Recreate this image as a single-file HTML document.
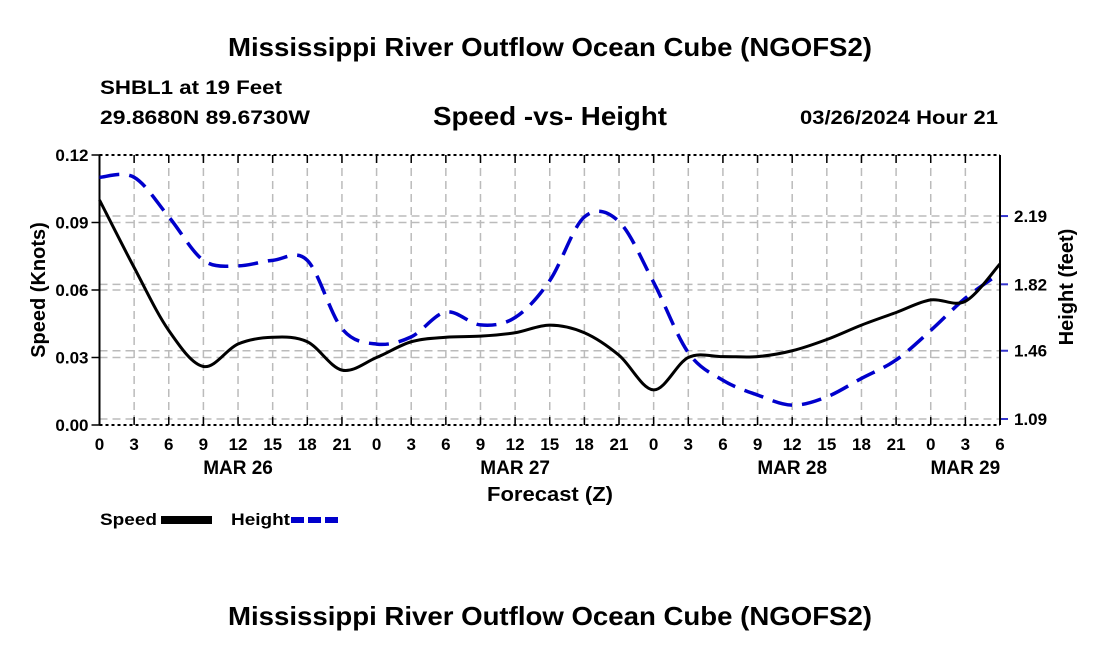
<!DOCTYPE html>
<html><head><meta charset="utf-8"><style>
body{margin:0;background:#fff;width:1100px;height:650px;overflow:hidden;font-family:"Liberation Sans",sans-serif;}
svg text{font-family:"Liberation Sans",sans-serif;font-weight:bold;fill:#000;}
</style></head><body>
<svg id="chart" width="1100" height="650">
<text x="550" y="56" text-anchor="middle" font-size="26" textLength="644" lengthAdjust="spacingAndGlyphs">Mississippi River Outflow Ocean Cube (NGOFS2)</text>
<text x="100" y="94" font-size="19" textLength="182" lengthAdjust="spacingAndGlyphs">SHBL1 at 19 Feet</text>
<text x="100" y="124" font-size="19" textLength="210" lengthAdjust="spacingAndGlyphs">29.8680N  89.6730W</text>
<text x="433" y="125" font-size="26" textLength="234" lengthAdjust="spacingAndGlyphs">Speed -vs- Height</text>
<text x="800" y="124" font-size="19" textLength="198" lengthAdjust="spacingAndGlyphs">03/26/2024 Hour 21</text>
<g id="grid"></g><g id="axes"></g><g id="series"></g>
<text x="487" y="501" font-size="20" textLength="126" lengthAdjust="spacingAndGlyphs">Forecast (Z)</text>
<text transform="translate(45,290) rotate(-90)" text-anchor="middle" font-size="20">Speed (Knots)</text>
<text transform="translate(1073,287) rotate(-90)" text-anchor="middle" font-size="20">Height (feet)</text>
<g>
<text x="100" y="525" font-size="17" textLength="57" lengthAdjust="spacingAndGlyphs">Speed</text>
<rect x="161" y="516" width="51" height="8" fill="#000"/>
<text x="231" y="525" font-size="17" textLength="59" lengthAdjust="spacingAndGlyphs">Height</text>
<line x1="291" y1="520" x2="342" y2="520" stroke="#00c" stroke-width="6" stroke-dasharray="13,4"/>
</g>
<text x="550" y="625" text-anchor="middle" font-size="26" textLength="644" lengthAdjust="spacingAndGlyphs">Mississippi River Outflow Ocean Cube (NGOFS2)</text>
</svg>
<script>
const hours=[0,3,6,9,12,15,18,21,24,27,30,33,36,39,42,45,48,51,54,57,60,63,66,69,72,75,78];
const speed=[0.100,0.070,0.042,0.026,0.036,0.039,0.037,0.0244,0.030,0.037,0.039,0.0395,0.041,0.0444,0.041,0.031,0.0156,0.030,0.0304,0.0304,0.033,0.038,0.0444,0.050,0.0556,0.055,0.0716];
const height=[2.40,2.40,2.186,1.95,1.92,1.95,1.95,1.58,1.496,1.535,1.67,1.60,1.64,1.84,2.185,2.16,1.83,1.45,1.30,1.22,1.165,1.21,1.31,1.41,1.57,1.745,1.88];
const hourLabels=["0","3","6","9","12","15","18","21","0","3","6","9","12","15","18","21","0","3","6","9","12","15","18","21","0","3","6"];
const dayLabels=["MAR 26","MAR 27","MAR 28","MAR 29"];
const dayHours=[12,36,60,75];
const speedTicks=[0,0.03,0.06,0.09,0.12];
const heightTicks=[1.09,1.46,1.82,2.19];
const X0=99.5,X1=1000,YT=155,YB=425;
const xs=h=>X0+(X1-X0)*h/78;
const ys=s=>YB-s*(YB-YT)/0.12;
const yh=v=>419-(v-1.09)*184.5;
const NS="http://www.w3.org/2000/svg";
function mk(p,t,a){const e=document.createElementNS(NS,t);for(const k in a)e.setAttribute(k,a[k]);p.appendChild(e);return e;}
const grid=document.getElementById('grid'),axes=document.getElementById('axes'),ser=document.getElementById('series');
hours.forEach((h,i)=>{
 if(i>0&&i<hours.length-1){const g=mk(grid,'line',{x1:xs(h),x2:xs(h),y1:YT,y2:YB,stroke:'#bbb','stroke-width':1.5,'stroke-dasharray':'8,5'});
 
 }
 const t=mk(axes,'line',{x1:xs(h),x2:xs(h),y1:YB,y2:YB-8,stroke:'#000','stroke-width':1.5});
 
 
 const t2=mk(axes,'line',{x1:xs(h),x2:xs(h),y1:YT,y2:YT+8,stroke:'#000','stroke-width':1.5});
 
 
 const l=mk(axes,'text',{x:xs(h),y:450,'text-anchor':'middle','font-size':17});l.textContent=hourLabels[i];
 
 
});
dayLabels.forEach((d,i)=>{const l=mk(axes,'text',{x:xs(dayHours[i]),y:474,'text-anchor':'middle','font-size':19});
 l.textContent=d;
 
 });
speedTicks.forEach(s=>{
 if(s>0&&s<0.12){const g=mk(grid,'line',{x1:X0,x2:X1,y1:ys(s),y2:ys(s),stroke:'#bbb','stroke-width':1.5,'stroke-dasharray':'8,5'});
 
 }
 const t=mk(axes,'line',{x1:X0-8,x2:X0,y1:ys(s),y2:ys(s),stroke:'#000','stroke-width':1.5});
 
 
 const l=mk(axes,'text',{x:X0-11,y:ys(s)+6,'text-anchor':'end','font-size':17});l.textContent=s.toFixed(2);
 
 
});
heightTicks.forEach(v=>{
 const g=mk(grid,'line',{x1:X0,x2:X1,y1:yh(v),y2:yh(v),stroke:'#bbb','stroke-width':1.5,'stroke-dasharray':'8,5'});
 
 
 const t=mk(axes,'line',{x1:X1,x2:X1+8,y1:yh(v),y2:yh(v),stroke:'#33c','stroke-width':2});
 
 
 const l=mk(axes,'text',{x:X1+14,y:yh(v)+6,'font-size':17});l.textContent=v.toFixed(2);
 
 
});
[[X0,YT,X0,YB],[X1,YT,X1,YB]].forEach(a=>{const e=mk(axes,'line',{x1:a[0],y1:a[1],x2:a[2],y2:a[3],stroke:'#000','stroke-width':2});
 
 });
[YT,YB].forEach(y=>{const e=mk(axes,'line',{x1:X0,y1:y,x2:X1,y2:y,stroke:'#000','stroke-width':2,'stroke-dasharray':'3,3'});
 
 });
function smooth(pts){let d=`M${pts[0][0]},${pts[0][1]}`;for(let i=0;i<pts.length-1;i++){const p0=pts[i-1]||pts[i],p1=pts[i],p2=pts[i+1],p3=pts[i+2]||p2;
 d+=` C${p1[0]+(p2[0]-p0[0])/6},${p1[1]+(p2[1]-p0[1])/6} ${p2[0]-(p3[0]-p1[0])/6},${p2[1]-(p3[1]-p1[1])/6} ${p2[0]},${p2[1]}`;}return d;}
const hp=mk(ser,'path',{d:smooth(hours.map((h,i)=>[xs(h),yh(height[i])])),fill:'none',stroke:'#00c','stroke-width':3.5,'stroke-dasharray':'20,10'});


const sp=mk(ser,'path',{d:smooth(hours.map((h,i)=>[xs(h),ys(speed[i])])),fill:'none',stroke:'#000','stroke-width':3});


</script>
</body></html>
